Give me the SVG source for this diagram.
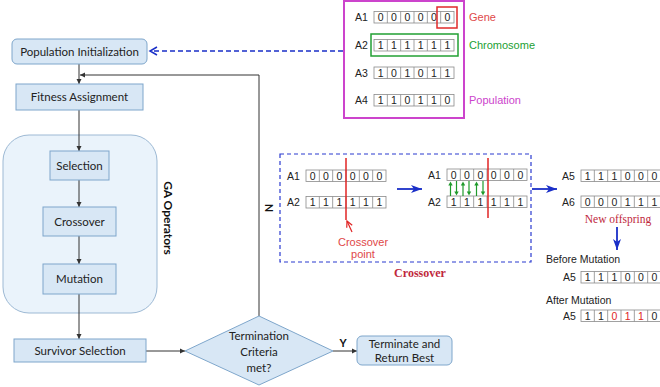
<svg xmlns="http://www.w3.org/2000/svg" width="660" height="387" viewBox="0 0 660 387">
<style>
.nb{fill:#d8e7f5;stroke:#7ea6cb;stroke-width:1}
.ft{font-family:Lato,"Liberation Sans",sans-serif;font-size:11.5px;fill:#222;text-anchor:middle}
.ar{font-family:"Liberation Sans",Arial,sans-serif;font-size:10.5px;fill:#222}
.dg{font-family:"Liberation Sans",Arial,sans-serif;font-size:10.5px;fill:#222;text-anchor:middle}
.ln{stroke:#333;stroke-width:1;fill:none}
.gc{fill:#fff;stroke:#8a8a8a;stroke-width:0.8}
</style>
<defs>
<marker id="ah" markerWidth="6" markerHeight="6" refX="5" refY="3" orient="auto" markerUnits="userSpaceOnUse"><path d="M0,0.5 L5,3 L0,5.5 Z" fill="#333"/></marker>
<marker id="ob" markerWidth="10" markerHeight="10" refX="8" refY="5" orient="auto" markerUnits="userSpaceOnUse"><path d="M1,1 L8,5 L1,9" fill="none" stroke="#1a2fc8" stroke-width="1.5"/></marker>
<marker id="bb" markerWidth="12" markerHeight="10" refX="11" refY="5" orient="auto" markerUnits="userSpaceOnUse"><path d="M0,1 L11,5 L0,9 L3,5 Z" fill="#1a2fc8"/></marker>
<marker id="ra" markerWidth="8" markerHeight="8" refX="7" refY="4" orient="auto" markerUnits="userSpaceOnUse"><path d="M1,1 L7,4 L1,7" fill="none" stroke="#e02424" stroke-width="1.2"/></marker>
<g id="grid">
<rect class="gc" x="0" y="0" width="80" height="11.5"/>
<path d="M13.33,0V11.5M26.67,0V11.5M40,0V11.5M53.33,0V11.5M66.67,0V11.5" stroke="#8a8a8a" stroke-width="0.8"/>
</g>
<path id="up" d="M0,0 L-2.2,4 L2.2,4 Z" fill="#1e9a2a"/>
<path id="dn" d="M0,0 L-2.2,-4 L2.2,-4 Z" fill="#1e9a2a"/>
</defs>
<rect width="660" height="387" fill="#fff"/>

<g id="ga-operators">
<rect x="3" y="135" width="154" height="178" rx="26" fill="#eaf3fb" stroke="#9db9d4" stroke-width="1"/>
<text x="167" y="218" transform="rotate(90 167 218)" font-family="Lato,'Liberation Sans',sans-serif" font-size="12" font-weight="bold" text-anchor="middle" dominant-baseline="middle" fill="#111">GA Operators</text>
</g>

<g id="connectors">
<path class="ln" d="M79,64 V84" marker-end="url(#ah)"/>
<path class="ln" d="M259,316 V75 H80" marker-end="url(#ah)"/>
<path class="ln" d="M79,110 V151" marker-end="url(#ah)"/>
<path class="ln" d="M79,180 V207" marker-end="url(#ah)"/>
<path class="ln" d="M79,236 V264" marker-end="url(#ah)"/>
<path class="ln" d="M79,294 V339" marker-end="url(#ah)"/>
<path class="ln" d="M146,351 H185" marker-end="url(#ah)"/>
<path class="ln" d="M333,351 H357" marker-end="url(#ah)"/>
<path d="M343,51 H150" stroke="#1a2fc8" stroke-width="1.5" stroke-dasharray="5,3" fill="none" marker-end="url(#ob)"/>
<text x="268" y="208" transform="rotate(90 268 208)" font-family="Lato,'Liberation Sans',sans-serif" font-size="11" font-weight="bold" text-anchor="middle" dominant-baseline="middle" fill="#111">N</text>
<text x="343" y="347" font-family="Lato,'Liberation Sans',sans-serif" font-size="11" font-weight="bold" text-anchor="middle" fill="#111">Y</text>
</g>

<g id="pop-init">
<rect class="nb" x="12" y="39" width="135" height="25" rx="5"/>
<text class="ft" x="79.5" y="55.5">Population Initialization</text>
</g>
<g id="fitness">
<rect class="nb" x="16" y="84" width="127" height="26"/>
<text class="ft" x="79.5" y="101">Fitness Assignment</text>
</g>
<g id="selection">
<rect class="nb" x="50" y="151" width="59" height="29"/>
<text class="ft" x="79.5" y="169.5">Selection</text>
</g>
<g id="crossover">
<rect class="nb" x="43" y="207" width="73" height="29"/>
<text class="ft" x="79.5" y="225.5">Crossover</text>
</g>
<g id="mutation">
<rect class="nb" x="43" y="264" width="73" height="30"/>
<text class="ft" x="79.5" y="283">Mutation</text>
</g>
<g id="survivor">
<rect class="nb" x="14" y="339" width="132" height="23"/>
<text class="ft" x="80" y="355">Survivor Selection</text>
</g>
<g id="termination">
<path class="nb" d="M259,316 L333,351 L259,385 L185,351 Z"/>
<text class="ft" x="259" y="340">Termination</text>
<text class="ft" x="259" y="356">Criteria</text>
<text class="ft" x="259" y="372">met?</text>
</g>
<g id="terminate">
<rect class="nb" x="357" y="336" width="95" height="29" rx="5"/>
<text class="ft" x="404.5" y="348">Terminate and</text>
<text class="ft" x="404.5" y="362">Return Best</text>
</g>

<g id="population">
<rect x="344" y="1" width="120" height="117" fill="none" stroke="#cc44cc" stroke-width="2"/>
<text class="ar" x="355" y="21">A1</text>
<use href="#grid" x="374" y="11.5"/>
<text class="dg" y="21"><tspan x="380.7">0</tspan><tspan x="394">0</tspan><tspan x="407.3">0</tspan><tspan x="420.7">0</tspan><tspan x="434">0</tspan><tspan x="447.3">0</tspan></text>
<text class="ar" x="355" y="49">A2</text>
<use href="#grid" x="374" y="39.5"/>
<text class="dg" y="49"><tspan x="380.7">1</tspan><tspan x="394">1</tspan><tspan x="407.3">1</tspan><tspan x="420.7">1</tspan><tspan x="434">1</tspan><tspan x="447.3">1</tspan></text>
<text class="ar" x="355" y="76.5">A3</text>
<use href="#grid" x="374" y="67"/>
<text class="dg" y="76.5"><tspan x="380.7">1</tspan><tspan x="394">0</tspan><tspan x="407.3">1</tspan><tspan x="420.7">0</tspan><tspan x="434">1</tspan><tspan x="447.3">1</tspan></text>
<text class="ar" x="355" y="104">A4</text>
<use href="#grid" x="374" y="94.5"/>
<text class="dg" y="104"><tspan x="380.7">1</tspan><tspan x="394">1</tspan><tspan x="407.3">0</tspan><tspan x="420.7">1</tspan><tspan x="434">1</tspan><tspan x="447.3">0</tspan></text>
<rect x="437" y="7" width="20" height="21" fill="none" stroke="#e02a2a" stroke-width="1.5"/>
<rect x="371" y="34" width="87" height="22" fill="none" stroke="#22a033" stroke-width="1.5"/>
<text x="469" y="21" font-family="'Liberation Sans',Arial,sans-serif" font-size="11" fill="#e04848">Gene</text>
<text x="469" y="49" font-family="'Liberation Sans',Arial,sans-serif" font-size="11" fill="#22a033">Chromosome</text>
<text x="469" y="104" font-family="'Liberation Sans',Arial,sans-serif" font-size="11" fill="#cc44cc">Population</text>
</g>

<g id="crossover-detail">
<rect x="280" y="154" width="251" height="108" fill="none" stroke="#2b3bd0" stroke-width="1.2" stroke-dasharray="4,3"/>
<text class="ar" x="287" y="179.5">A1</text>
<use href="#grid" x="306" y="170"/>
<text class="dg" y="179.5"><tspan x="312.7">0</tspan><tspan x="326">0</tspan><tspan x="339.3">0</tspan><tspan x="352.7">0</tspan><tspan x="366">0</tspan><tspan x="379.3">0</tspan></text>
<text class="ar" x="287" y="206">A2</text>
<use href="#grid" x="306" y="196.5"/>
<text class="dg" y="206"><tspan x="312.7">1</tspan><tspan x="326">1</tspan><tspan x="339.3">1</tspan><tspan x="352.7">1</tspan><tspan x="366">1</tspan><tspan x="379.3">1</tspan></text>
<path d="M346,158 V220" stroke="#e02424" stroke-width="1.5"/>
<path d="M352,232 L347,221" stroke="#e02424" stroke-width="1.2" fill="none" marker-end="url(#ra)"/>
<text x="363" y="246" font-family="'Liberation Sans',Arial,sans-serif" font-size="11" fill="#e04848" text-anchor="middle">Crossover</text>
<text x="363" y="258" font-family="'Liberation Sans',Arial,sans-serif" font-size="11" fill="#e04848" text-anchor="middle">point</text>
<path d="M397,189 H422" stroke="#1a2fc8" stroke-width="1.8" marker-end="url(#bb)"/>
<text class="ar" x="428" y="178.5">A1</text>
<use href="#grid" x="447" y="169"/>
<text class="dg" y="178.5"><tspan x="453.7">0</tspan><tspan x="467">0</tspan><tspan x="480.3">0</tspan><tspan x="493.7">0</tspan><tspan x="507">0</tspan><tspan x="520.3">0</tspan></text>
<text class="ar" x="428" y="205.5">A2</text>
<use href="#grid" x="447" y="196"/>
<text class="dg" y="205.5"><tspan x="453.7">1</tspan><tspan x="467">1</tspan><tspan x="480.3">1</tspan><tspan x="493.7">1</tspan><tspan x="507">1</tspan><tspan x="520.3">1</tspan></text>
<g stroke="#1e9a2a" stroke-width="1.2">
<path d="M450.5,196 V185"/><path d="M456.5,181 V192"/>
<path d="M463,196 V185"/><path d="M469,181 V192"/>
<path d="M476.5,196 V185"/><path d="M483,181 V192"/>
</g>
<use href="#up" x="450.5" y="181.5"/><use href="#dn" x="456.5" y="195.5"/>
<use href="#up" x="463" y="181.5"/><use href="#dn" x="469" y="195.5"/>
<use href="#up" x="476.5" y="181.5"/><use href="#dn" x="483" y="195.5"/>
<path d="M488,158 V218" stroke="#e02424" stroke-width="1.5"/>
<text x="420" y="277" font-family="'Liberation Serif','Times New Roman',serif" font-size="12" font-weight="bold" fill="#c0283c" text-anchor="middle">Crossover</text>
</g>

<g id="offspring">
<path d="M532,189 H557" stroke="#1a2fc8" stroke-width="1.8" marker-end="url(#bb)"/>
<text class="ar" x="562" y="179.5">A5</text>
<use href="#grid" x="581" y="170"/>
<text class="dg" y="179.5"><tspan x="587.7">1</tspan><tspan x="601">1</tspan><tspan x="614.3">1</tspan><tspan x="627.7">0</tspan><tspan x="641">0</tspan><tspan x="654.3">0</tspan></text>
<text class="ar" x="562" y="205.5">A6</text>
<use href="#grid" x="581" y="196"/>
<text class="dg" y="205.5"><tspan x="587.7">0</tspan><tspan x="601">0</tspan><tspan x="614.3">0</tspan><tspan x="627.7">1</tspan><tspan x="641">1</tspan><tspan x="654.3">1</tspan></text>
<text x="618" y="223" font-family="'Liberation Serif','Times New Roman',serif" font-size="11.5" fill="#c0283c" text-anchor="middle">New offspring</text>
<path d="M617,227 V250" stroke="#1a2fc8" stroke-width="1.8" marker-end="url(#bb)"/>
</g>

<g id="mutation-detail">
<text x="546" y="263" font-family="'Liberation Sans',Arial,sans-serif" font-size="10.5" fill="#222">Before Mutation</text>
<text class="ar" x="563" y="281">A5</text>
<use href="#grid" x="581" y="271.5"/>
<text class="dg" y="281"><tspan x="587.7">1</tspan><tspan x="601">1</tspan><tspan x="614.3">1</tspan><tspan x="627.7">0</tspan><tspan x="641">0</tspan><tspan x="654.3">0</tspan></text>
<text x="546" y="304" font-family="'Liberation Sans',Arial,sans-serif" font-size="10.5" fill="#222">After Mutation</text>
<text class="ar" x="563" y="319.5">A5</text>
<use href="#grid" x="581" y="310"/>
<text class="dg" y="319.5"><tspan x="587.7">1</tspan><tspan x="601">1</tspan><tspan x="614.3" fill="#e02424">0</tspan><tspan x="627.7" fill="#e02424">1</tspan><tspan x="641" fill="#e02424">1</tspan><tspan x="654.3">0</tspan></text>
</g>
</svg>
